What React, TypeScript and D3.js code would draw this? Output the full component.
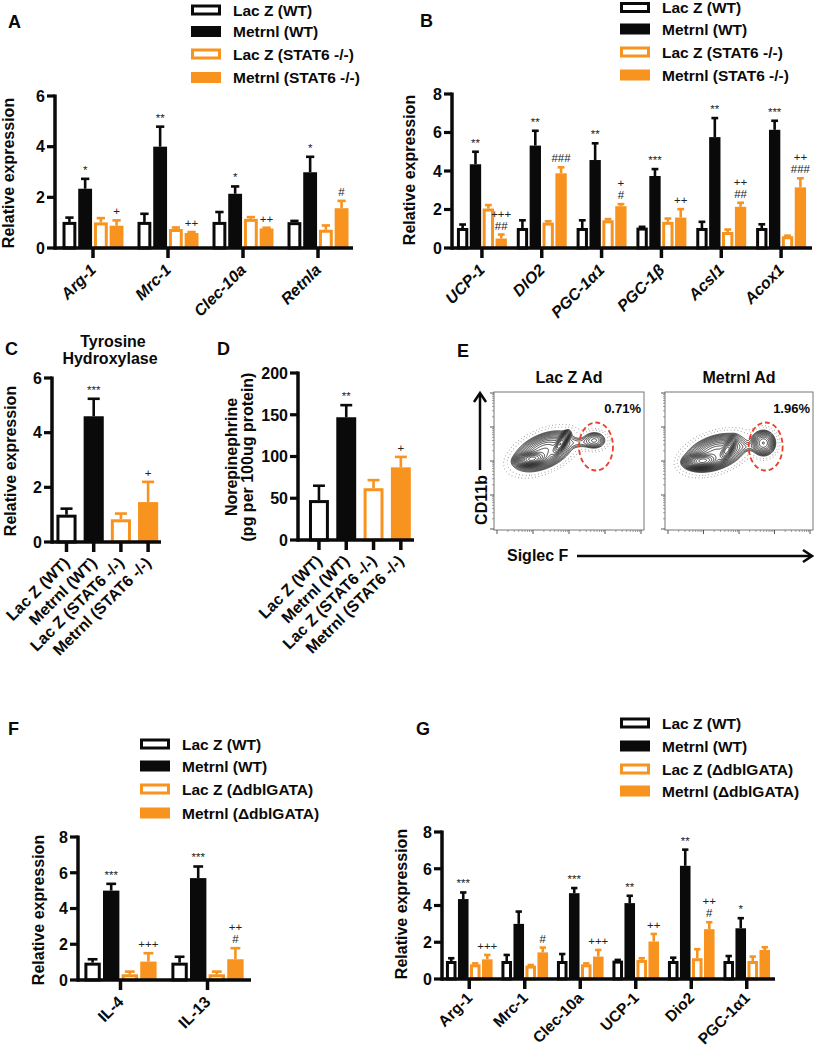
import React, { useMemo } from 'react';
import * as d3 from 'd3';

const FONT = '"Liberation Sans", Arial, Helvetica, sans-serif';
const ORANGE = '#F7931E';
const BLACK = '#0a0a0a';

// ---------- legends ----------
const legendSTAT6 = ['Lac Z (WT)', 'Metrnl (WT)', 'Lac Z (STAT6 -/-)', 'Metrnl (STAT6 -/-)'];
const legendGATA = ['Lac Z (WT)', 'Metrnl (WT)', 'Lac Z (ΔdblGATA)', 'Metrnl (ΔdblGATA)'];

// ---------- Panel A ----------
const catsA = ['Arg-1', 'Mrc-1', 'Clec-10a', 'Retnla'];
const meanA = [
  [1.03, 2.34, 1.01, 0.88],
  [1.03, 4.0, 0.75, 0.59],
  [1.03, 2.14, 1.15, 0.77],
  [1.02, 2.99, 0.72, 1.57],
];
const errA = [
  [1.2, 2.73, 1.18, 1.09],
  [1.35, 4.79, 0.81, 0.63],
  [1.42, 2.43, 1.22, 0.8],
  [1.07, 3.6, 0.89, 1.86],
];
const annA = [
  ['', '*', '', '+'],
  ['', '**', '', '++'],
  ['', '*', '', '++'],
  ['', '*', '', '#'],
];

// ---------- Panel B ----------
const catsB = ['UCP-1', 'DIO2', 'PGC-1α1', 'PGC-1β', 'Acsl1', 'Acox1'];
const meanB = [
  [1.04, 4.35, 2.05, 0.49],
  [1.04, 5.32, 1.32, 3.88],
  [1.04, 4.57, 1.44, 2.17],
  [1.06, 3.74, 1.36, 1.58],
  [1.04, 5.76, 0.83, 2.14],
  [1.04, 6.14, 0.61, 3.15],
];
const errB = [
  [1.22, 5.0, 2.23, 0.7],
  [1.44, 6.09, 1.39, 4.19],
  [1.44, 5.44, 1.5, 2.28],
  [1.1, 4.1, 1.53, 2.02],
  [1.36, 6.75, 0.96, 2.35],
  [1.23, 6.61, 0.64, 3.62],
];
const annB = [
  ['', '**', '', '+++|##'],
  ['', '**', '', '###'],
  ['', '**', '', '+|#'],
  ['', '***', '', '++'],
  ['', '**', '', '++|##'],
  ['', '***', '', '++|###'],
];

// ---------- Panel C ----------
const catsC = ['Lac Z (WT)', 'Metrnl (WT)', 'Lac Z (STAT6 -/-)', 'Metrnl (STAT6 -/-)'];
const meanC = [1.0, 4.6, 0.83, 1.46];
const errC = [1.22, 5.24, 1.04, 2.2];
const annC = ['', '***', '', '+'];

// ---------- Panel D ----------
const catsD = ['Lac Z (WT)', 'Metrnl (WT)', 'Lac Z (STAT6 -/-)', 'Metrnl (STAT6 -/-)'];
const meanD = [47.8, 147, 62, 87];
const errD = [65, 161.5, 71.7, 99.5];
const annD = ['', '**', '', '+'];

// ---------- Panel E (flow cytometry density model: cx, cy, sx, sy, angle, weight) ----------
const flowLacZ = [
  [0.33, 0.43, 0.1, 0.055, -28, 0.6],
  [0.25, 0.485, 0.045, 0.022, -10, 1.5],
  [0.445, 0.375, 0.042, 0.014, -60, 1.1],
  [0.57, 0.37, 0.05, 0.025, 0, 0.06],
  [0.67, 0.35, 0.042, 0.034, 0, 0.2],
];
const flowMetrnl = [
  [0.34, 0.44, 0.1, 0.055, -22, 0.6],
  [0.25, 0.5, 0.05, 0.024, -5, 1.5],
  [0.42, 0.42, 0.042, 0.016, -62, 1.1],
  [0.55, 0.4, 0.04, 0.02, 0, 0.04],
  [0.665, 0.37, 0.04, 0.045, 0, 0.45],
];
const gatePct = ['0.71%', '1.96%'];
const flowTitles = ['Lac Z Ad', 'Metrnl Ad'];

// ---------- Panel F ----------
const catsF = ['IL-4', 'IL-13'];
const meanF = [
  [0.97, 5.0, 0.32, 1.03],
  [0.97, 5.7, 0.32, 1.16],
];
const errF = [
  [1.16, 5.38, 0.47, 1.5],
  [1.3, 6.35, 0.47, 1.78],
];
const annF = [
  ['', '***', '', '+++'],
  ['', '***', '', '++|#'],
];

// ---------- Panel G ----------
const catsG = ['Arg-1', 'Mrc-1', 'Clec-10a', 'UCP-1', 'Dio2', 'PGC-1α1'];
const meanG = [
  [0.98, 4.35, 0.8, 1.07],
  [0.98, 3.0, 0.73, 1.45],
  [0.98, 4.67, 0.8, 1.22],
  [1.0, 4.13, 1.04, 2.04],
  [0.98, 6.16, 1.13, 2.71],
  [0.98, 2.76, 0.98, 1.58],
];
const errG = [
  [1.13, 4.71, 0.85, 1.31],
  [1.31, 3.67, 0.76, 1.71],
  [1.36, 4.95, 0.85, 1.58],
  [1.04, 4.53, 1.13, 2.45],
  [1.16, 7.04, 1.62, 3.09],
  [1.25, 3.31, 1.22, 1.73],
];
const annG = [
  ['', '***', '', '+++'],
  ['', '', '', '#'],
  ['', '***', '', '+++'],
  ['', '**', '', '++'],
  ['', '**', '', '++|#'],
  ['', '*', '', ''],
];

// ======================================================

type BarProps = {
  cats: string[];
  means: number[][];
  errs: number[][];
  ann: string[][];
  styleOf: (g: number, b: number) => number;
  r0: number;
  r1: number;
  pi: number;
  axisX: number;
  axisEnd: number;
  yMax: number;
  yBottom: number;
  yTop: number;
  yTicks: number[];
  italic?: boolean;
  labelDx?: number;
  labelDy?: number;
  labelSize?: number;
};

function BarPanel(p: BarProps) {
  const x0 = d3.scaleBand<string>().domain(p.cats).range([p.r0, p.r1]).paddingInner(p.pi).paddingOuter(p.pi / 2);
  const nb = p.means[0].length;
  const x1 = d3
    .scaleBand<number>()
    .domain(d3.range(nb))
    .range([0, x0.bandwidth()])
    .paddingInner(nb > 1 ? 0.12 : 0);
  const y = d3.scaleLinear().domain([0, p.yMax]).range([p.yBottom, p.yTop]);
  const sw = 3;
  const bars: any[] = [];
  p.cats.forEach((c, gi) => {
    p.means[gi].forEach((v, bi) => {
      const s = p.styleOf(gi, bi);
      const col = s < 2 ? BLACK : ORANGE;
      const open = s % 2 === 0;
      const bx = (x0(c) as number) + (x1(bi) as number);
      const bw = x1.bandwidth();
      const yt = y(v);
      const yb = y(0);
      const cx = bx + bw / 2;
      const ye = y(p.errs[gi][bi]);
      const capW = bw * 0.6;
      const lines = p.ann[gi][bi] ? p.ann[gi][bi].split('|') : [];
      bars.push(
        <g key={`${gi}-${bi}`}>
          {ye < yt && (
            <g stroke={col} strokeWidth={2.6}>
              <line x1={cx} x2={cx} y1={yt} y2={ye} />
              <line x1={cx - capW / 2} x2={cx + capW / 2} y1={ye} y2={ye} />
            </g>
          )}
          {open ? (
            <rect x={bx + sw / 2} y={yt + sw / 2} width={bw - sw} height={yb - yt - sw / 2} fill="#fff" stroke={col} strokeWidth={sw} />
          ) : (
            <rect x={bx} y={yt} width={bw} height={yb - yt} fill={col} />
          )}
          {lines.map((t, k) => (
            <text
              key={k}
              x={cx}
              y={Math.min(ye, yt) - 5 - (lines.length - 1 - k) * 12}
              textAnchor="middle"
              fontSize={11.5}
              fill="#222"
              fontFamily={FONT}
            >
              {t}
            </text>
          ))}
        </g>
      );
    });
  });
  const dx = p.labelDx ?? 4;
  const dy = p.labelDy ?? 23;
  const ls = p.labelSize ?? 16;
  return (
    <g fontFamily={FONT}>
      {bars}
      {/* y axis */}
      <line x1={p.axisX} x2={p.axisX} y1={p.yTop - 1.5} y2={p.yBottom + 1.75} stroke={BLACK} strokeWidth={3.5} />
      {p.yTicks.map((t) => (
        <g key={t}>
          <line x1={p.axisX - 8} x2={p.axisX} y1={y(t)} y2={y(t)} stroke={BLACK} strokeWidth={3.2} />
          <text x={p.axisX - 10} y={y(t)} dy="0.36em" textAnchor="end" fontSize={16} fontWeight="bold" fill={BLACK}>
            {t}
          </text>
        </g>
      ))}
      {/* x axis */}
      <line x1={p.axisX} x2={p.axisEnd} y1={p.yBottom} y2={p.yBottom} stroke={BLACK} strokeWidth={3.5} />
      {p.cats.map((c) => {
        const cx = (x0(c) as number) + x0.bandwidth() / 2;
        return (
          <g key={c}>
            <line x1={cx} x2={cx} y1={p.yBottom} y2={p.yBottom + 10} stroke={BLACK} strokeWidth={3.5} />
            <text
              transform={`translate(${cx + dx},${p.yBottom + dy}) rotate(-45)`}
              textAnchor="end"
              fontSize={ls}
              fontWeight="bold"
              fontStyle={p.italic ? 'italic' : 'normal'}
              fill={BLACK}
            >
              {c}
            </text>
          </g>
        );
      })}
    </g>
  );
}

function Legend({ x, tx, ys, labels }: { x: number; tx: number; ys: number[]; labels: string[] }) {
  return (
    <g fontFamily={FONT}>
      {labels.map((l, i) => {
        const col = i < 2 ? BLACK : ORANGE;
        const open = i % 2 === 0;
        const w = 30;
        const h = 11;
        const yc = ys[i];
        return (
          <g key={l}>
            {open ? (
              <rect x={x + 1.5} y={yc - h / 2 + 1.5} width={w - 3} height={h - 3} fill="#fff" stroke={col} strokeWidth={3} />
            ) : (
              <rect x={x} y={yc - h / 2} width={w} height={h} fill={col} />
            )}
            <text x={tx} y={yc} dy="0.36em" fontSize={15.5} fontWeight="bold" fill={BLACK}>
              {l}
            </text>
          </g>
        );
      })}
    </g>
  );
}

function FlowPlot({ bx, by, bw, bh, comps, pct, title, id }: any) {
  const data = useMemo(() => {
    const nx = bw * 2;
    const ny = bh * 2;
    const vals: number[] = new Array(nx * ny);
    for (let j = 0; j < ny; j++) {
      for (let i = 0; i < nx; i++) {
        const fx = (i + 0.5) / nx;
        const fy = (j + 0.5) / ny;
        let s = 0;
        for (const [cx, cy, sx, sy, ang, w] of comps) {
          const a = (ang * Math.PI) / 180;
          const dx = fx - cx;
          const dy = fy - cy;
          const u = dx * Math.cos(a) + dy * Math.sin(a);
          const v = -dx * Math.sin(a) + dy * Math.cos(a);
          s += w * Math.exp(-0.5 * ((u * u) / (sx * sx) + (v * v) / (sy * sy)));
        }
        vals[j * nx + i] = s;
      }
    }
    const mx = d3.max(vals) as number;
    const levels = d3.range(17).map((k) => mx * Math.pow(10, -1.55 + (1.5 * k) / 16));
    const outer = [mx * Math.pow(10, -2.3), mx * Math.pow(10, -1.95)];
    const gen = d3.contours().size([nx, ny]);
    const path = d3.geoPath(d3.geoIdentity().scale(0.5).translate([bx, by]) as any);
    return {
      main: gen.thresholds(levels)(vals).map((c) => path(c as any) as string),
      outer: gen.thresholds(outer)(vals).map((c) => path(c as any) as string),
    };
  }, [bx, by, bw, bh, comps]);

  const xs = d3.scaleLog().domain([1, 1e4]).range([bx + 3, bx + bw - 3]);
  const ys = d3.scaleLog().domain([1, 1e4]).range([by + bh - 1, by + 1]);
  const minor: number[] = [];
  for (let e = 0; e < 4; e++) for (let m = 2; m < 10; m++) minor.push(m * Math.pow(10, e));
  const major = [1, 10, 100, 1000, 10000];
  const gx = xs.invert(bx + bw * 0.68);
  return (
    <g fontFamily={FONT}>
      <defs>
        <clipPath id={id}>
          <rect x={bx} y={by} width={bw} height={bh} />
        </clipPath>
      </defs>
      <text x={bx + bw / 2} y={383} textAnchor="middle" fontSize={16} fontWeight="bold" fill={BLACK}>
        {title}
      </text>
      <rect x={bx} y={by} width={bw} height={bh} fill="#fff" stroke="#777" strokeWidth={1} />
      <g clipPath={`url(#${id})`}>
        {data.outer.map((d, i) => (
          <path key={i} d={d} fill="none" stroke="#9a9a9a" strokeWidth={1.1} strokeDasharray="0.8 2.6" />
        ))}
        {data.main.map((d, i) => (
          <path key={i} d={d} fill="none" stroke="#000" strokeWidth={0.75} />
        ))}
      </g>
      {major.map((t) => (
        <g key={'M' + t} stroke="#555" strokeWidth={1}>
          <line x1={xs(t)} x2={xs(t)} y1={by + bh} y2={by + bh + 4} />
          <line x1={bx} x2={bx - 4} y1={ys(t)} y2={ys(t)} />
        </g>
      ))}
      {minor.map((t) => (
        <g key={'m' + t} stroke="#777" strokeWidth={0.7}>
          <line x1={xs(t)} x2={xs(t)} y1={by + bh} y2={by + bh + 2} />
          <line x1={bx} x2={bx - 2} y1={ys(t)} y2={ys(t)} />
        </g>
      ))}
      <ellipse
        cx={xs(gx)}
        cy={by + bh * 0.395}
        rx={17}
        ry={24}
        fill="none"
        stroke="#E8402A"
        strokeWidth={1.8}
        strokeDasharray="5 3"
      />
      <text x={bx + bw - 3} y={413} textAnchor="end" fontSize={13} fontWeight="bold" fill={BLACK}>
        {pct}
      </text>
    </g>
  );
}

function YLabel({ x, y, text }: { x: number; y: number; text: string }) {
  return (
    <text
      transform={`translate(${x},${y}) rotate(-90)`}
      textAnchor="middle"
      fontSize={16}
      fontWeight="bold"
      fontFamily={FONT}
      fill={BLACK}
    >
      {text}
    </text>
  );
}

function PanelLetter({ x, y, t }: { x: number; y: number; t: string }) {
  return (
    <text x={x} y={y} fontSize={18} fontWeight="bold" fontFamily={FONT} fill={BLACK}>
      {t}
    </text>
  );
}

export default function App() {
  const cd = (g: number) => g;
  return (
    <svg
      width={814}
      height={1050}
      viewBox="0 0 814 1050"
      style={{ position: 'absolute', left: 0, top: 0, background: '#fff' }}
    >
      <rect x={0} y={0} width={814} height={1050} fill="#fff" />

      {/* Panel A */}
      <PanelLetter x={8} y={28} t="A" />
      <Legend x={191} tx={233} ys={[10, 31.5, 54, 77.5]} labels={legendSTAT6} />
      <YLabel x={14} y={173} text="Relative expression" />
      <BarPanel
        cats={catsA}
        means={meanA}
        errs={errA}
        ann={annA}
        styleOf={(g, b) => b}
        r0={55.5}
        r1={355.5}
        pi={0.187}
        axisX={55}
        axisEnd={353}
        yMax={6}
        yBottom={248}
        yTop={96}
        yTicks={[0, 2, 4, 6]}
        italic
      />

      {/* Panel B */}
      <PanelLetter x={420} y={27} t="B" />
      <Legend x={620} tx={662} ys={[7.5, 29, 52, 75]} labels={legendSTAT6} />
      <YLabel x={415} y={170} text="Relative expression" />
      <BarPanel
        cats={catsB}
        means={meanB}
        errs={errB}
        ann={annB}
        styleOf={(g, b) => b}
        r0={452}
        r1={811}
        pi={0.165}
        axisX={452}
        axisEnd={812}
        yMax={8}
        yBottom={248}
        yTop={94}
        yTicks={[0, 2, 4, 6, 8]}
        italic
      />

      {/* Panel C */}
      <PanelLetter x={5} y={355} t="C" />
      <text x={113} y={347} textAnchor="middle" fontSize={16} fontWeight="bold" fontFamily={FONT} fill={BLACK}>
        Tyrosine
      </text>
      <text x={110} y={364} textAnchor="middle" fontSize={16} fontWeight="bold" fontFamily={FONT} fill={BLACK}>
        Hydroxylase
      </text>
      <YLabel x={16} y={461} text="Relative expression" />
      <BarPanel
        cats={catsC}
        means={meanC.map((v) => [v])}
        errs={errC.map((v) => [v])}
        ann={annC.map((v) => [v])}
        styleOf={cd}
        r0={52.9}
        r1={161.7}
        pi={0.26}
        axisX={52}
        axisEnd={161}
        yMax={6}
        yBottom={542}
        yTop={378}
        yTicks={[0, 2, 4, 6]}
        labelDy={22}
      />

      {/* Panel D */}
      <PanelLetter x={217} y={355} t="D" />
      <YLabel x={237} y={457} text="Norepinephrine" />
      <YLabel x={253} y={457} text="(pg per 100ug protein)" />
      <BarPanel
        cats={catsD}
        means={meanD.map((v) => [v])}
        errs={errD.map((v) => [v])}
        ann={annD.map((v) => [v])}
        styleOf={cd}
        r0={305.3}
        r1={414.5}
        pi={0.27}
        axisX={298}
        axisEnd={414}
        yMax={200}
        yBottom={540}
        yTop={373}
        yTicks={[0, 50, 100, 150, 200]}
        labelDy={22}
      />

      {/* Panel E */}
      <PanelLetter x={457} y={357} t="E" />
      <FlowPlot id="clipE1" bx={494} by={392} bw={150} bh={138} comps={flowLacZ} pct={gatePct[0]} title={flowTitles[0]} />
      <FlowPlot id="clipE2" bx={665} by={392} bw={148} bh={138} comps={flowMetrnl} pct={gatePct[1]} title={flowTitles[1]} />
      <g stroke={BLACK} strokeWidth={2.5} fill="none">
        <line x1={480} x2={480} y1={470} y2={394} />
        <polyline points="474,402 480,393 486,402" />
        <line x1={577} x2={811} y1={556} y2={556} />
        <polyline points="803,550 812,556 803,562" />
      </g>
      <YLabel x={487} y={500} text="CD11b" />
      <text x={507} y={561} fontSize={16} fontWeight="bold" fontFamily={FONT} fill={BLACK}>
        Siglec F
      </text>

      {/* Panel F */}
      <PanelLetter x={8} y={735} t="F" />
      <Legend x={140} tx={182} ys={[744, 766, 789, 813]} labels={legendGATA} />
      <YLabel x={44} y={910} text="Relative expression" />
      <BarPanel
        cats={catsF}
        means={meanF}
        errs={errF}
        ann={annF}
        styleOf={(g, b) => b}
        r0={77}
        r1={251}
        pi={0.17}
        axisX={78}
        axisEnd={251}
        yMax={8}
        yBottom={980}
        yTop={837}
        yTicks={[0, 2, 4, 6, 8]}
      />

      {/* Panel G */}
      <PanelLetter x={416} y={735} t="G" />
      <Legend x={620} tx={662} ys={[723, 746, 769, 791]} labels={legendGATA} />
      <YLabel x={407} y={904} text="Relative expression" />
      <BarPanel
        cats={catsG}
        means={meanG}
        errs={errG}
        ann={annG}
        styleOf={(g, b) => b}
        r0={441.5}
        r1={774.5}
        pi={0.16}
        axisX={442}
        axisEnd={775}
        yMax={8}
        yBottom={979}
        yTop={832}
        yTicks={[0, 2, 4, 6, 8]}
        labelDy={20}
        labelSize={15.5}
      />
    </svg>
  );
}
